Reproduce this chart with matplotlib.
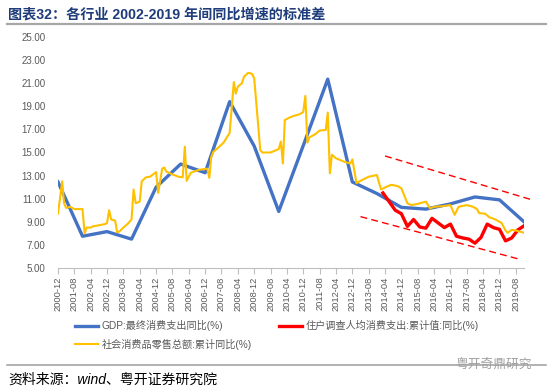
import matplotlib
matplotlib.use('Agg')
import matplotlib.pyplot as plt
import matplotlib.dates as mdates
import pandas as pd

plt.rcParams['font.family'] = ['Liberation Sans', 'Noto Sans CJK SC', 'DejaVu Sans']
plt.rcParams['axes.unicode_minus'] = False

# GDP:最终消费支出同比 (年度)
gdp_dates = ['2000-12', '2001-12', '2002-12', '2003-12', '2004-12', '2005-12', '2006-12',
             '2007-12', '2008-12', '2009-12', '2010-12', '2011-12', '2012-12', '2013-12',
             '2014-12', '2015-12', '2016-12', '2017-12', '2018-12', '2019-12']
gdp_vals = [12.45, 7.75, 8.15, 7.5, 12.0, 14.0, 13.25, 19.4, 15.55, 9.9, 15.6, 21.35,
            12.45, 11.45, 10.25, 10.1, 10.55, 11.15, 10.9, 9.0]

# 住户调查人均消费支出:累计值:同比 (季度)
hh_dates = ['2014-03', '2014-09', '2014-12', '2015-03', '2015-06', '2015-09', '2015-12',
            '2016-03', '2016-06', '2016-09', '2016-12', '2017-03', '2017-06', '2017-09',
            '2017-12', '2018-03', '2018-06', '2018-09', '2018-12', '2019-03', '2019-06',
            '2019-09', '2019-12']
hh_vals = [11.5, 10.0, 9.7, 8.6, 9.2, 8.55, 8.45, 9.3, 8.9, 8.5, 8.8, 7.75, 7.6, 7.5,
           7.15, 7.65, 8.8, 8.5, 8.35, 7.35, 7.6, 8.3, 8.65]

# 社会消费品零售总额:累计同比 (月度)
retail_dates = ['2000-12', '2001-02', '2001-03', '2001-04', '2001-06', '2001-08', '2001-12',
                '2002-01', '2002-02', '2002-04', '2002-05', '2002-08', '2002-11', '2002-12',
                '2003-01', '2003-02', '2003-04', '2003-05', '2003-06', '2003-08', '2003-10',
                '2003-12', '2004-01', '2004-02', '2004-04', '2004-05', '2004-07', '2004-09',
                '2004-12', '2005-01', '2005-03', '2005-04', '2005-05', '2005-08', '2005-11',
                '2006-01', '2006-02', '2006-03', '2006-05', '2006-09', '2007-01', '2007-02',
                '2007-03', '2007-04', '2007-06', '2007-09', '2007-12', '2008-02', '2008-03',
                '2008-04', '2008-06', '2008-07', '2008-09', '2008-11', '2008-12', '2009-03',
                '2009-04', '2009-08', '2009-12', '2010-01', '2010-02', '2010-03', '2010-05',
                '2010-07', '2010-10', '2010-12', '2011-01', '2011-02', '2011-03', '2011-06',
                '2011-08', '2011-11', '2011-12', '2012-01', '2012-02', '2012-04', '2012-08',
                '2012-11', '2012-12', '2013-02', '2013-04', '2013-08', '2013-12', '2014-02',
                '2014-05', '2014-07', '2014-10', '2014-12', '2015-03', '2015-05', '2015-08',
                '2015-12', '2016-02', '2016-04', '2016-08', '2016-12', '2017-02', '2017-04',
                '2017-08', '2017-11', '2018-01', '2018-02', '2018-05', '2018-07', '2018-10',
                '2019-01', '2019-03', '2019-04', '2019-06', '2019-08', '2019-10', '2019-12']
retail_vals = [9.7, 12.5, 10.6, 10.2, 10.3, 10.1, 10.1,
               8.0, 8.5, 8.5, 8.6, 8.7, 8.8, 8.9,
               10.0, 9.2, 9.1, 8.1, 8.15, 8.5, 8.8,
               9.2, 11.8, 10.6, 10.75, 12.5, 12.85, 12.9,
               13.3, 11.5, 13.6, 13.7, 13.35, 13.1, 12.9,
               12.85, 15.5, 12.55, 13.25, 13.5, 13.6, 12.8,
               14.6, 15.05, 15.35, 15.85, 16.7, 21.1, 20.1,
               20.7, 21.0, 21.55, 21.9, 21.8, 21.4, 15.2,
               15.0, 15.0, 15.3, 15.95, 14.05, 17.8, 18.0,
               18.15, 18.3, 18.5, 19.9, 15.85, 16.3, 16.6,
               16.9, 16.95, 18.45, 13.2, 14.8, 14.5, 14.2,
               14.05, 14.4, 12.35, 12.55, 12.9, 13.05, 11.8,
               12.05, 12.2, 12.1, 11.9, 10.6, 10.45, 10.55,
               10.75, 10.15, 10.3, 10.35, 10.45, 9.6, 10.3,
               10.45, 10.3, 10.1, 9.75, 9.7, 9.4, 9.2,
               8.9, 8.25, 8.05, 8.3, 8.25, 8.15, 8.05]

# 趋势通道(红色虚线)
upper_dates = ['2014-04', '2020-03']
upper_vals = [14.7, 10.95]
lower_dates = ['2013-04', '2019-10']
lower_vals = [9.45, 5.75]

labels = ['GDP:最终消费支出同比(%)', '住户调查人均消费支出:累计值:同比(%)',
          '社会消费品零售总额:累计同比(%)']

fig = plt.figure(figsize=(5.5, 3.89), dpi=100)
ax = fig.add_axes([58 / 550, 1 - 268 / 389, 466 / 550, 231 / 389])

to_dt = pd.to_datetime
l_gdp, = ax.plot(to_dt(gdp_dates), gdp_vals, color='#4472C4', lw=2.4, solid_joinstyle='round')
l_hh, = ax.plot(to_dt(hh_dates), hh_vals, color='#FF0000', lw=2.4, solid_joinstyle='round')
l_rt, = ax.plot(to_dt(retail_dates), retail_vals, color='#FFC000', lw=1.5)
ax.plot(to_dt(upper_dates), upper_vals, color='#FF0000', lw=1.0, dashes=(5, 3), clip_on=False)
ax.plot(to_dt(lower_dates), lower_vals, color='#FF0000', lw=1.0, dashes=(5, 3), clip_on=False)

ax.set_ylim(5, 25)
ax.set_yticks(range(5, 26, 2))
ax.set_yticklabels(['%.2f' % v for v in range(5, 26, 2)])
ax.set_xlim(pd.Timestamp('2000-12-01'), pd.Timestamp('2019-12-01'))
xt = pd.date_range('2000-12-01', '2019-08-01', freq='8MS')
ax.set_xticks(xt)
ax.xaxis.set_major_formatter(mdates.DateFormatter('%Y-%m'))
for s in ['top', 'right', 'left']:
    ax.spines[s].set_visible(False)
ax.spines['bottom'].set_color('#BFBFBF')
ax.tick_params(axis='y', length=0, labelsize=7, labelcolor='#595959', pad=9)
ax.tick_params(axis='x', length=4, color='#BFBFBF', labelsize=6.7, labelcolor='#595959',
               labelrotation=90, pad=2)

fig.legend([l_gdp, l_rt, l_hh], [labels[0], labels[2], labels[1]], ncol=2,
           loc='upper left', bbox_to_anchor=(75 / 550, 1 - 320 / 389), frameon=False,
           fontsize=7.3, labelcolor='#595959', handlelength=2.3, handletextpad=0.3,
           columnspacing=2.7, labelspacing=0.75, borderpad=0, borderaxespad=0)

# 标题与来源
fig.text(8 / 550, 1 - 14 / 389, '图表32：各行业 2002-2019 年间同比增速的标准差',
         fontsize=10.2, fontweight='bold', color='#1F3D7A', va='center', ha='left')
fig.add_artist(plt.Line2D([7 / 550, 546 / 550], [1 - 24 / 389, 1 - 24 / 389],
                          color='#A6A6A6', lw=1.6))
fig.add_artist(plt.Line2D([7 / 550, 546 / 550], [1 - 365 / 389, 1 - 365 / 389],
                          color='#A6A6A6', lw=1.2))
fig.text(455 / 550, 1 - 365 / 389, '粤开奇鼎研究', fontsize=9.2, color='#A0A0A0',
         va='center', ha='left')
fig.text(8 / 550, 1 - 380 / 389, '资料来源：wind、粤开证券研究院', fontsize=10,
         style='italic', color='#000000', va='center', ha='left')

fig.savefig('out.png', dpi=100)
